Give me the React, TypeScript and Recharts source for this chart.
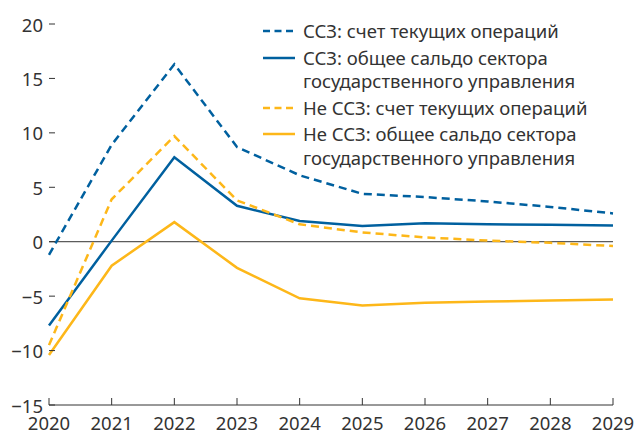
import React from 'react';
import { LineChart, Line, XAxis, YAxis, ReferenceLine, Legend } from 'recharts';

const years = ['2020', '2021', '2022', '2023', '2024', '2025', '2026', '2027', '2028', '2029'];
const gccCurrentAccount = [-1.2, 8.9, 16.3, 8.7, 6.1, 4.4, 4.1, 3.7, 3.2, 2.6];
const gccFiscalBalance = [-7.7, 0.1, 7.75, 3.3, 1.9, 1.45, 1.7, 1.6, 1.55, 1.5];
const nonGccCurrentAccount = [-9.5, 3.9, 9.7, 3.8, 1.6, 0.85, 0.4, 0.1, -0.1, -0.4];
const nonGccFiscalBalance = [-10.4, -2.2, 1.8, -2.4, -5.2, -5.85, -5.6, -5.5, -5.4, -5.3];
const yTicks = [-15, -10, -5, 0, 5, 10, 15, 20];

const seriesNames = [
  ['ССЗ: счет текущих операций'],
  ['ССЗ: общее сальдо сектора', 'государственного управления'],
  ['Не ССЗ: счет текущих операций'],
  ['Не ССЗ: общее сальдо сектора', 'государственного управления'],
];

const BLUE = '#00609f';
const YELLOW = '#fdb719';
const INK = '#333333';
const FONT = '"Noto Sans", sans-serif';

const data = years.map((year, i) => ({
  year,
  gccCA: gccCurrentAccount[i],
  gccFB: gccFiscalBalance[i],
  nonCA: nonGccCurrentAccount[i],
  nonFB: nonGccFiscalBalance[i],
}));

const series = [
  { key: 'gccCA', color: BLUE, dashed: true },
  { key: 'gccFB', color: BLUE, dashed: false },
  { key: 'nonCA', color: YELLOW, dashed: true },
  { key: 'nonFB', color: YELLOW, dashed: false },
];

const fmt = (v: number) => (v < 0 ? '\u2212' + Math.abs(v) : String(v));

const Y_MARGIN = 6;
const LeftTick = (props: any) => {
  const { x, y, payload } = props;
  return (
    <g>
      <line x1={x + Y_MARGIN} x2={x + Y_MARGIN + 6} y1={y} y2={y} stroke={INK} strokeWidth={1} />
      <text x={x} y={y} textAnchor="end" dominantBaseline="central" fill={INK} fontSize={18.5} fontFamily={FONT}>
        {fmt(payload.value)}
      </text>
    </g>
  );
};

const RightTick = (props: any) => {
  const { x, y } = props;
  return <line x1={x - Y_MARGIN - 6} x2={x - Y_MARGIN} y1={y} y2={y} stroke={INK} strokeWidth={1} />;
};

const X_MARGIN = 2;
const BottomTick = (props: any) => {
  const { x, y, payload } = props;
  const axisY = y - X_MARGIN;
  return (
    <g>
      <line x1={x} x2={x} y1={axisY} y2={axisY - 7} stroke={INK} strokeWidth={1} />
      <text x={x} y={y} dy="1.22em" textAnchor="middle" fill={INK} fontSize={18.5} fontFamily={FONT}>
        {payload.value}
      </text>
    </g>
  );
};

const LegendContent = () => (
  <div style={{ fontFamily: FONT, fontSize: 18.5, color: INK, lineHeight: '23.5px' }}>
    {series.map((s, i) => (
      <div key={s.key} style={{ display: 'flex', alignItems: 'flex-start', marginBottom: 3 }}>
        <svg width={33} height={23.5} style={{ marginRight: 7, flexShrink: 0 }}>
          <line x1={0} x2={32} y1={12} y2={12} stroke={s.color} strokeWidth={2.5} strokeDasharray={s.dashed ? '7 4.5' : undefined} />
        </svg>
        <div style={{ whiteSpace: 'nowrap' }}>
          {seriesNames[i].map((t) => (
            <div key={t}>{t}</div>
          ))}
        </div>
      </div>
    ))}
  </div>
);

export default function App() {
  return (
    <div style={{ position: 'absolute', left: 0, top: 0, width: 635, height: 432, background: '#fff' }}>
      <LineChart width={635} height={432} data={data} margin={{ top: 24, right: 0, left: 0, bottom: 0 }}>
        <XAxis
          dataKey="year"
          height={27}
          padding={{ left: 0, right: 0 }}
          axisLine={{ stroke: INK, strokeWidth: 1 }}
          tickLine={false}
          tickSize={0}
          tickMargin={X_MARGIN}
          interval={0}
          tick={<BottomTick />}
        />
        <YAxis
          yAxisId="left"
          width={49}
          domain={[-15, 20]}
          ticks={yTicks}
          interval={0}
          axisLine={false}
          tickLine={false}
          tickSize={0}
          tickMargin={Y_MARGIN}
          tick={<LeftTick />}
        />
        <YAxis
          yAxisId="right"
          orientation="right"
          width={22}
          domain={[-15, 20]}
          ticks={yTicks}
          interval={0}
          axisLine={false}
          tickLine={false}
          tickSize={0}
          tickMargin={Y_MARGIN}
          tick={<RightTick />}
        />
        <ReferenceLine yAxisId="left" y={0} stroke={INK} strokeWidth={1} />
        {series.map((s) => (
          <Line
            key={s.key}
            yAxisId="left"
            type="linear"
            dataKey={s.key}
            stroke={s.color}
            strokeWidth={2.5}
            strokeDasharray={s.dashed ? '8 5' : undefined}
            dot={false}
            activeDot={false}
            isAnimationActive={false}
          />
        ))}
        <Legend
          layout="vertical"
          align="center"
          verticalAlign="middle"
          wrapperStyle={{ left: 263, top: 19, width: 370 }}
          content={<LegendContent />}
        />
      </LineChart>
    </div>
  );
}
